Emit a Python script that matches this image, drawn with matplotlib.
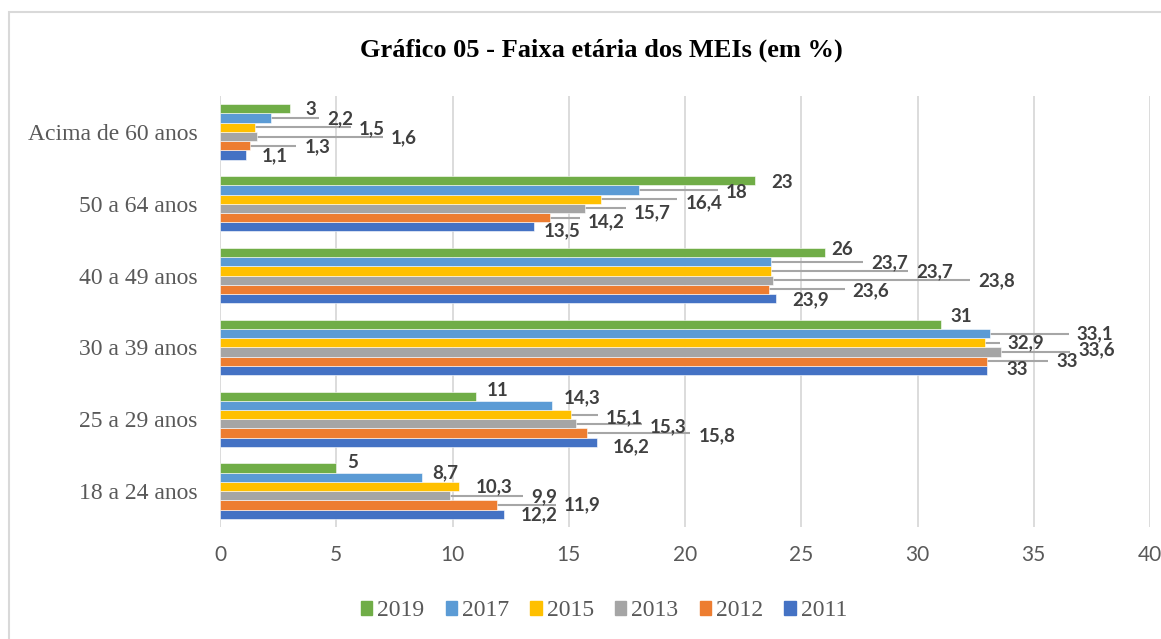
import matplotlib
matplotlib.use("Agg")
import matplotlib.pyplot as plt
from matplotlib.patches import Rectangle, Patch

categories = ["18 a 24 anos", "25 a 29 anos", "30 a 39 anos",
              "40 a 49 anos", "50 a 64 anos", "Acima de 60 anos"]
years = ["2011", "2012", "2013", "2015", "2017", "2019"]

v2011 = [12.2, 16.2, 33, 23.9, 13.5, 1.1]
v2012 = [11.9, 15.8, 33, 23.6, 14.2, 1.3]
v2013 = [9.9, 15.3, 33.6, 23.8, 15.7, 1.6]
v2015 = [10.3, 15.1, 32.9, 23.7, 16.4, 1.5]
v2017 = [8.7, 14.3, 33.1, 23.7, 18, 2.2]
v2019 = [5, 11, 31, 26, 23, 3]
values = [v2011, v2012, v2013, v2015, v2017, v2019]

colors = ["#4472C4", "#ED7D31", "#A5A5A5", "#FFC000", "#5B9BD5", "#70AD47"]

# label placement (pixels): gap from bar end to text, vertical shift (down +)
# rows follow years order, columns follow categories
label_dx = [
    [17, 16, 19, 17, 10, 16],
    [67, 111, 69, 84, 38, 54],
    [81, 74, 77, 205, 49, 134],
    [16, 35, 23, 145, 84, 104],
    [10, 11, 87, 100, 87, 56],
    [11, 11, 10, 7, 17, 16],
]
label_dy = [
    [1, 4, -1, 1, 4, 1],
    [0, 3, 0, 1, 4, 1],
    [1, 3, -2, 1, 4, 1],
    [0, 3, 0, 1, 4, 1],
    [-5, -8, 0, 1, 3, 1],
    [-6, -6, -8, -3, 2, 1],
]
leader = [
    [0, 0, 0, 0, 0, 0],
    [1, 1, 1, 1, 1, 1],
    [1, 1, 1, 1, 1, 1],
    [0, 1, 1, 1, 1, 1],
    [0, 0, 1, 1, 1, 1],
    [0, 0, 0, 0, 0, 0],
]

W, H = 1161, 639
fig = plt.figure(figsize=(W / 100, H / 100), dpi=100)
ax = fig.add_axes([220 / W, 1 - 527 / H, 930 / W, 431 / H])

xmax = 40
px_per_unit = 930 / xmax
group = 0.77
bh = group / len(years)

for k, (yr, vals, col) in enumerate(zip(years, values, colors)):
    ys = [i + (k - 2.5) * bh for i in range(len(categories))]
    ax.barh(ys, vals, height=bh, color=col, edgecolor="white", linewidth=0.4,
            label=yr, zorder=3)
    for i, (y, v) in enumerate(zip(ys, vals)):
        dx = label_dx[k][i]
        if leader[k][i]:
            ax.plot([v, v + (dx - 8) / px_per_unit], [y, y], color="#A6A6A6",
                    lw=1.5, zorder=2, solid_capstyle="butt")
        txt = str(v).replace(".", ",")
        ax.annotate(txt, xy=(v, y), xytext=(dx * 0.72, -label_dy[k][i] * 0.72),
                    textcoords="offset points", ha="left", va="center",
                    fontsize=13.5, fontweight="bold", family="Lato",
                    color="#404040", zorder=4)

ax.set_xlim(0, xmax)
ax.set_ylim(-0.5, len(categories) - 0.5)
ax.set_xticks(range(0, 41, 5))
ax.set_yticks(range(len(categories)))
ax.set_yticklabels(categories, family="Liberation Serif", fontsize=17, color="#595959")
for lab in ax.get_xticklabels():
    lab.set_family("Lato")
    lab.set_fontsize(15)
    lab.set_color("#595959")
ax.tick_params(axis="x", length=0, pad=13)
ax.tick_params(axis="y", length=0, pad=16)
ax.grid(axis="x", color="#D9D9D9", lw=1.3, zorder=0)
for s in ax.spines.values():
    s.set_visible(False)

fig.text(601 / W, 1 - 50 / H, "Gráfico 05 - Faixa etária dos MEIs (em %)",
         ha="center", va="center", fontsize=19, fontweight="bold",
         family="Liberation Serif", color="black")

handles = [Patch(color=c, label=y) for y, c in zip(years, colors)][::-1]
leg = fig.legend(handles=handles, loc="center", bbox_to_anchor=(604 / W, 1 - 611 / H),
                 ncol=6, frameon=False, prop={"family": "Liberation Serif", "size": 17},
                 handlelength=0.49, handleheight=0.49, handletextpad=0.21,
                 columnspacing=0.89)
for t in leg.get_texts():
    t.set_color("#595959")

fig.patches.append(Rectangle((9 / W, -0.1), 2, 1.1 - 12 / H, transform=fig.transFigure,
                             fill=False, edgecolor="#D9D9D9", lw=1.5))

fig.savefig("out.png", dpi=100)
